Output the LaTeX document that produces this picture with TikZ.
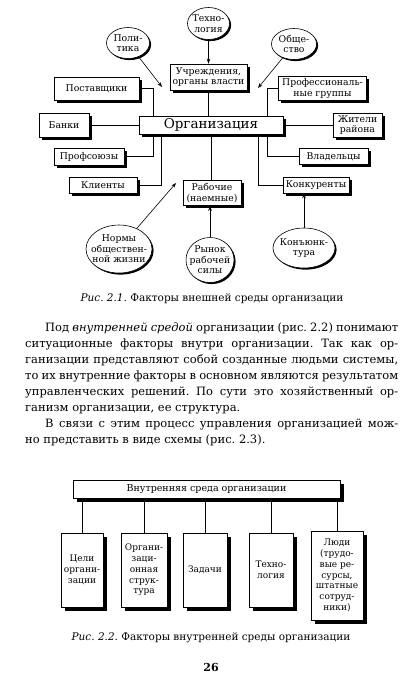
\documentclass[tikz,border=0pt]{standalone}
\usepackage{fontspec}
\setmainfont{DejaVu Serif}
\usetikzlibrary{shapes.geometric,shadows,arrows.meta}
\frenchspacing

\tikzset{
  factor/.style={draw, fill=white, line width=0.6pt, align=center, inner sep=0.5pt,
    font=\fontsize{9.3}{10.6}\selectfont,
    drop shadow={shadow xshift=2.6pt, shadow yshift=-2.6pt, fill=black, opacity=1}},
  envbubble/.style={ellipse, draw, fill=white, line width=0.6pt, inner sep=0pt,
    drop shadow={shadow xshift=1.6pt, shadow yshift=-1.6pt, fill=black, opacity=1}},
  bubbletext/.style={align=center, inner sep=0pt, font=\fontsize{9.3}{10.4}\selectfont},
  innerbox/.style={draw, fill=white, line width=0.6pt, align=center, inner sep=0.5pt,
    font=\fontsize{9}{10.7}\selectfont,
    drop shadow={shadow xshift=4pt, shadow yshift=-4pt, fill=black, opacity=1}},
  pointer/.style={-{Stealth[length=5pt, width=3.6pt]}, line width=0.6pt},
  wire/.style={-, line width=0.6pt},
}

\begin{document}
\begin{tikzpicture}[x=1pt, y=-1pt]
  \fill[white] (0,0) rectangle (418,686);
  \useasboundingbox (0,0) rectangle (418,686);

  % external environment
  % --------------------
  \node[factor, minimum width=144, minimum height=18,
    font=\fontsize{13.5}{15}\selectfont] (org) at (211,125) {Организация};

  \node[factor, minimum width=77, minimum height=26] (inst) at (208.5,77) {Учреждения,\\органы власти};
  \node[factor, minimum width=85, minimum height=23] (supp) at (96.5,88.5) {Поставщики};
  \node[factor, minimum width=50, minimum height=24] (banks) at (64,125) {Банки};
  \node[factor, minimum width=70, minimum height=17] (unions) at (89,156.5) {Профсоюзы};
  \node[factor, minimum width=68, minimum height=16] (clients) at (103,185) {Клиенты};
  \node[factor, minimum width=88, minimum height=24] (prof) at (322.5,88.5) {Профессиональ-\\ные группы};
  \node[factor, minimum width=49, minimum height=24] (resid) at (357.5,125) {Жители\\района};
  \node[factor, minimum width=69, minimum height=16] (owners) at (333.5,156.5) {Владельцы};
  \node[factor, minimum width=66, minimum height=16] (comp) at (316,185) {Конкуренты};
  \node[factor, minimum width=58, minimum height=25] (work) at (212,193) {Рабочие\\(наемные)};

  \node[envbubble, minimum width=43, minimum height=31,
    label={[bubbletext]center:Поли-\\тика}] (polit) at (128,43) {};
  \node[envbubble, minimum width=42, minimum height=32,
    label={[bubbletext]center:Техно-\\логия}] (tech) at (208.5,23.5) {};
  \node[envbubble, minimum width=45, minimum height=31,
    label={[bubbletext]center:Обще-\\ство}] (soc) at (294,44) {};
  \node[envbubble, minimum width=66, minimum height=48,
    label={[bubbletext]center:Нормы\\обществен-\\ной жизни}] (norms) at (119,249) {};
  \node[envbubble, minimum width=48, minimum height=45,
    label={[bubbletext]center:Рынок\\рабочей\\силы}] (market) at (210,260) {};
  \node[envbubble, minimum width=62, minimum height=40,
    label={[bubbletext]center:Конъюнк-\\тура}] (konj) at (304,248) {};

  \coordinate (polittip) at (162,87);
  \coordinate (soctip) at (258,88);
  \coordinate (normstip) at (176,183);

  % links
  \draw[wire] (inst.south) -- (inst.south |- org.north);
  \draw[wire] (org.south) -- (org.south |- work.north);
  \draw[wire] (supp.east) -| ([xshift=15pt]org.north west);
  \draw[wire] (banks.east) -- (org.west);
  \draw[wire] ([xshift=15pt]org.south west) |- (unions.east);
  \draw[wire] ([xshift=23pt]org.south west) |- (clients.east);
  \draw[wire] (prof.west) -| ([xshift=-16pt]org.north east);
  \draw[wire] (org.east) -- (resid.west);
  \draw[wire] ([xshift=-16pt]org.south east) |- (owners.west);
  \draw[wire] ([xshift=-25pt]org.south east) |- (comp.west);

  % arrows
  \draw[pointer] (tech) -- (inst);
  \draw[pointer] (polit) -- (polittip);
  \draw[pointer] (soc) -- (soctip);
  \draw[pointer] (norms) -- (normstip);
  \draw[pointer] (market.north) -- (market.north |- work.south);
  \draw[pointer] (konj.north) -- (konj.north |- comp.south);

  \node[font=\fontsize{10.5}{12}\selectfont] (cap1) at (212,299)
    {\textit{Рис. 2.1.} Факторы внешней среды организации};

  % text
  % ----
  \node[anchor=north west, text width=373pt, align=justify, inner sep=0pt,
    font=\fontsize{11.5}{15.9}\selectfont] (body) at (25,323) {%
    \hyphenpenalty=10000 \tolerance=9999
    \hspace*{20pt}Под \textit{внутренней средой} организации (рис.~2.2) понимают\linebreak
    ситуационные факторы внутри организации. Так как ор-\linebreak
    ганизации представляют собой созданные людьми системы,\linebreak
    то их внутренние факторы в основном являются результатом\linebreak
    управленческих решений. По сути это хозяйственный ор-\linebreak
    ганизм организации, ее структура.\par
    \hspace*{20pt}В связи с этим процесс управления организацией мож-\linebreak
    но представить в виде схемы (рис.~2.3).};

  % internal environment
  % --------------------
  \node[innerbox, minimum width=267, minimum height=18,
    font=\fontsize{9.5}{11}\selectfont] (inner) at (206.5,489) {Внутренняя среда организации};

  \node[innerbox, minimum width=42, minimum height=74] (goals) at (82,570) {Цели\\органи-\\зации};
  \node[innerbox, minimum width=46, minimum height=74] (struct) at (144,570) {Органи-\\заци-\\онная\\струк-\\тура};
  \node[innerbox, minimum width=44, minimum height=74] (tasks) at (205,570) {Задачи};
  \node[innerbox, minimum width=44, minimum height=74] (techn) at (271,570) {Техно-\\логия};
  \node[innerbox, minimum width=52, minimum height=89] (people) at (337,575.5)
    {Люди\\(трудо-\\вые ре-\\сурсы,\\штатные\\сотруд-\\ники)};

  \draw[wire] (goals.north) -- (goals.north |- inner.south);
  \draw[wire] (struct.north) -- (struct.north |- inner.south);
  \draw[wire] (tasks.north) -- (tasks.north |- inner.south);
  \draw[wire] (techn.north) -- (techn.north |- inner.south);
  \draw[wire] (people.north) -- (people.north |- inner.south);

  \node[font=\fontsize{10.5}{12}\selectfont] (cap2) at (211,638)
    {\textit{Рис. 2.2.} Факторы внутренней среды организации};

  \node[font=\bfseries\fontsize{11}{13}\selectfont] (page) at (211,667) {26};
\end{tikzpicture}
\end{document}
